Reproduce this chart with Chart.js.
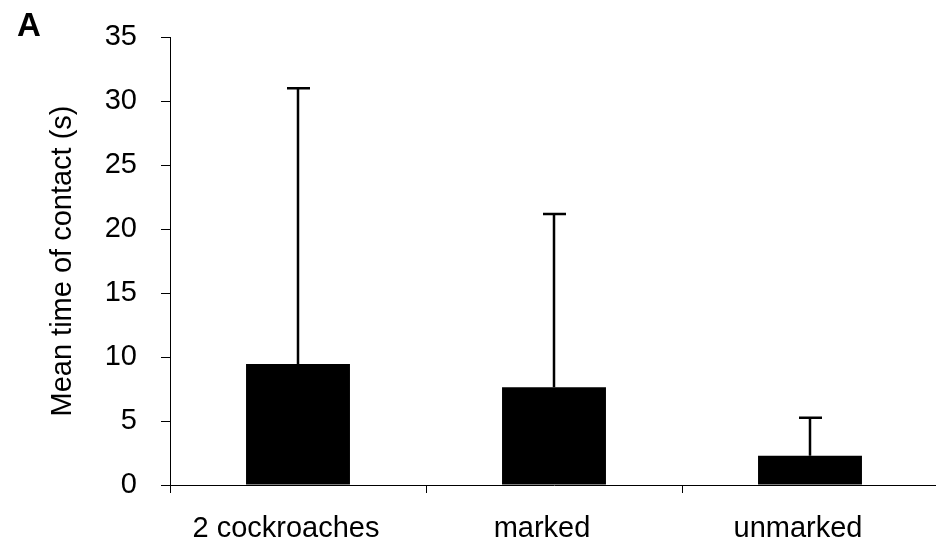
<!DOCTYPE html>
<html>
<head>
<meta charset="utf-8">
<script src="https://cdn.jsdelivr.net/npm/chart.js@4"></script>
<style>
  html, body { margin: 0; padding: 0; background: #fff; overflow: hidden; }
  #wrap { position: relative; width: 940px; height: 544px; }
  #panel { position: absolute; left: 17px; top: 6px; font: bold 33px "Liberation Sans", Arial, sans-serif; color: #000; }
</style>
</head>
<body>
<div id="wrap">
  <canvas id="myChart" width="940" height="544"></canvas>
  <div id="panel">A</div>
</div>
<script>
const categories = ['2 cockroaches', 'marked', 'unmarked'];
const meanContact = [9.45, 7.63, 2.29];
const errorTop = [31.0, 21.17, 5.26];
const yTicks = [0, 5, 10, 15, 20, 25, 30, 35];

// draws the upper error bars with a cap
const errorBars = {
  id: 'errorBars',
  afterDatasetsDraw(chart) {
    const ctx = chart.ctx;
    const y = chart.scales.y;
    const meta = chart.getDatasetMeta(0);
    ctx.save();
    ctx.strokeStyle = '#000';
    ctx.lineWidth = 2.5;
    meta.data.forEach((bar, i) => {
      const yTop = y.getPixelForValue(errorTop[i]);
      const yBase = y.getPixelForValue(meanContact[i]);
      ctx.beginPath();
      ctx.moveTo(bar.x, yBase);
      ctx.lineTo(bar.x, yTop);
      ctx.moveTo(bar.x - 11, yTop);
      ctx.lineTo(bar.x + 12, yTop);
      ctx.stroke();
    });
    ctx.restore();
  }
};

const font = { family: '"Liberation Sans", Arial', size: 29 };

const ctx = document.getElementById('myChart').getContext('2d');
new Chart(ctx, {
  type: 'bar',
  data: {
    labels: categories,
    datasets: [{
      data: meanContact,
      backgroundColor: '#000',
      borderWidth: 0,
      barPercentage: 0.406,
      categoryPercentage: 1
    }]
  },
  options: {
    responsive: false,
    animation: false,
    layout: { padding: { left: 40, top: 37, right: 2, bottom: 0 } },
    plugins: { legend: { display: false }, tooltip: { enabled: false } },
    scales: {
      x: {
        afterFit: s => { s.height = 59; },
        grid: { offset: true, drawOnChartArea: false, tickLength: 8, color: '#000', lineWidth: 1 },
        border: { display: true, color: '#000', width: 1 },
        ticks: { color: '#000', padding: 19, labelOffset: -12, maxRotation: 0, font: font }
      },
      y: {
        min: 0,
        max: 35,
        afterBuildTicks: s => { s.ticks = yTicks.map(v => ({ value: v })); },
        afterFit: s => { s.width = 130; s.paddingTop = 0; s.paddingBottom = 0; },
        grid: { drawOnChartArea: false, tickLength: 9, color: '#000', lineWidth: 1 },
        border: { display: true, color: '#000', width: 1 },
        ticks: { color: '#000', padding: 24, font: font },
        title: {
          display: true,
          text: 'Mean time of contact (s)',
          color: '#000',
          padding: { top: 6, bottom: 0 },
          font: font
        }
      }
    }
  },
  plugins: [errorBars]
});
</script>
</body>
</html>
